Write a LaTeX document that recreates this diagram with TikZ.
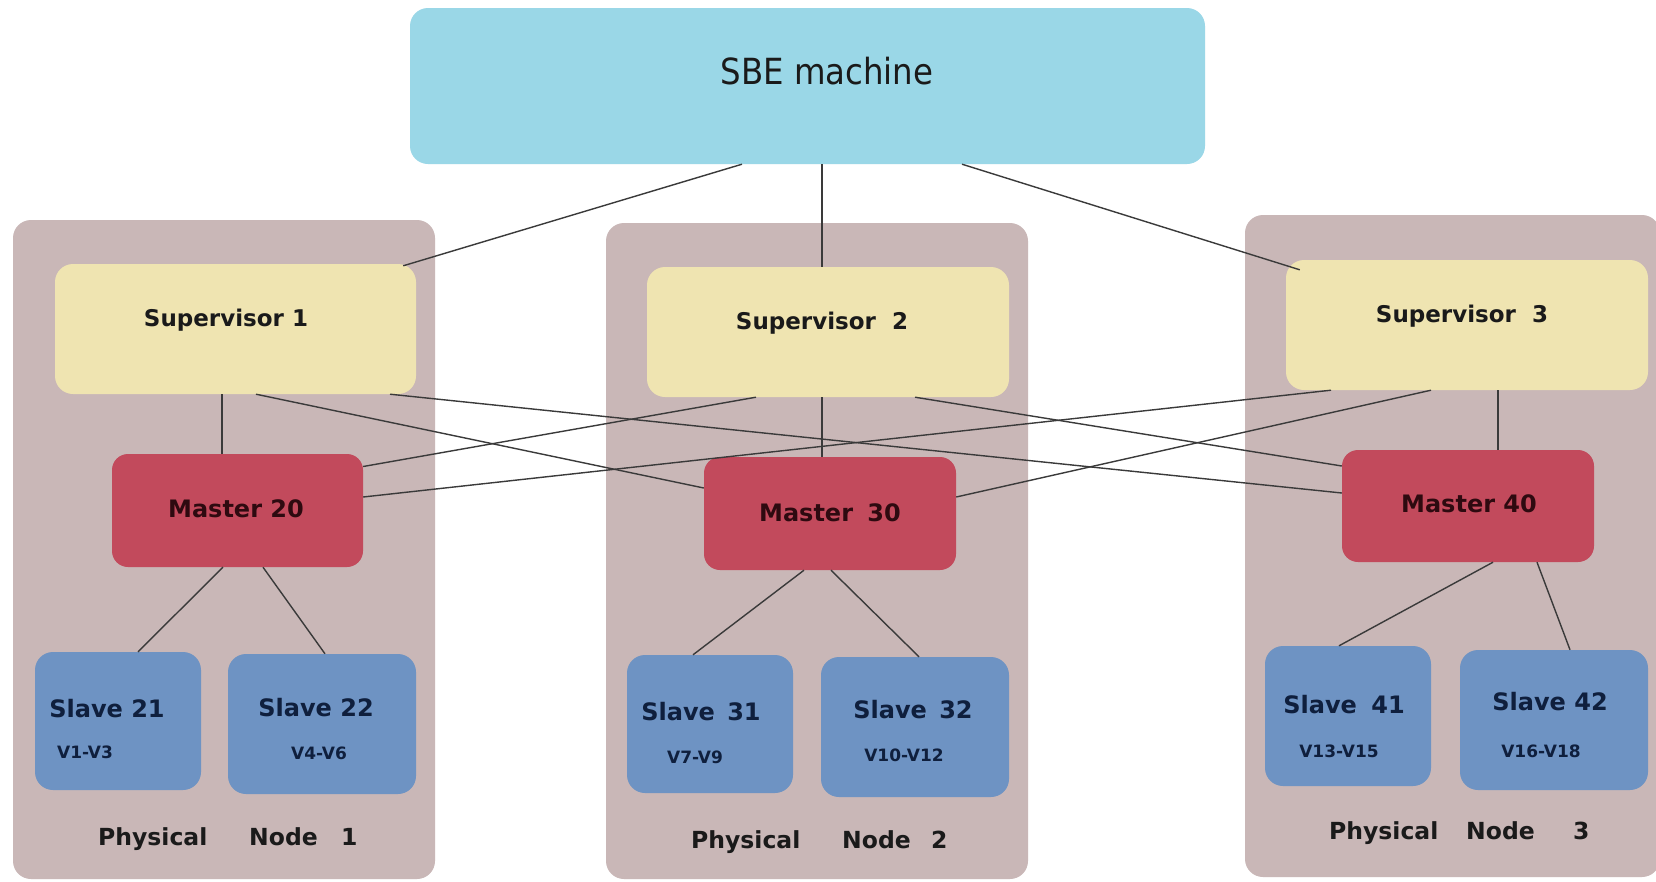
\documentclass[tikz,border=0pt]{standalone}
\usepackage{fontspec}
\setmainfont{DejaVu Sans}
\newfontfamily\narrowfont{DejaVu Sans Condensed}
\usetikzlibrary{calc}

\definecolor{sbefill}{HTML}{9AD7E7}
\definecolor{hostfill}{HTML}{C9B7B7}
\definecolor{supfill}{HTML}{EFE4B1}
\definecolor{mastfill}{HTML}{C24A5C}
\definecolor{slavefill}{HTML}{6E93C3}
\definecolor{linkcol}{HTML}{3A3A3A}
\definecolor{darktext}{HTML}{1A1A1A}
\definecolor{masttext}{HTML}{2E0A10}
\definecolor{slavetext}{HTML}{0F1F3D}

\begin{document}
\begin{tikzpicture}[x=1pt,y=-1pt,
  box/.style={rounded corners=18pt, inner sep=0pt, draw=none},
  hostbox/.style={box, fill=hostfill},
  sbebox/.style={box, fill=sbefill},
  supbox/.style={box, fill=supfill},
  mastbox/.style={box, fill=mastfill, rounded corners=16pt},
  slavebox/.style={box, fill=slavefill},
  link/.style={draw=linkcol, line width=1.4pt},
  txt/.style={inner sep=0pt, font=\bfseries\fontsize{23}{25}\selectfont},
  suptext/.style={txt, text=darktext},
  masttext/.style={txt, text=masttext, font=\bfseries\fontsize{24}{26}\selectfont},
  slavetext/.style={txt, text=slavetext, font=\bfseries\fontsize{24}{26}\selectfont},
  rangetext/.style={txt, text=slavetext, font=\bfseries\fontsize{17}{19}\selectfont},
  hosttext/.style={txt, text=darktext, anchor=west, font=\bfseries\fontsize{23.5}{25}\selectfont},
]
\useasboundingbox[fill=white] (0,0) rectangle (1656,881);

% physical hosts
\node[hostbox, minimum width=422pt, minimum height=659pt] (pn1) at (224,549.5) {};
\node[hostbox, minimum width=422pt, minimum height=656pt] (pn2) at (817,551) {};
\node[hostbox, minimum width=415pt, minimum height=662pt] (pn3) at (1452.5,546) {};

% SBE machine
\node[sbebox, minimum width=795pt, minimum height=156pt] (sbe) at (807.5,86) {};
\node[inner sep=0pt, text=darktext, font=\narrowfont\fontsize{36}{38}\selectfont] (sbet) at (827,71) {SBE machine};

% supervisors
\node[supbox, minimum width=361pt, minimum height=130pt] (sup1) at (235.5,329) {};
\node[supbox, minimum width=362pt, minimum height=130pt] (sup2) at (828,332) {};
\node[supbox, minimum width=362pt, minimum height=130pt] (sup3) at (1467,325) {};
\node[suptext] (sup1t) at (226,320) {Supervisor 1};
\node[suptext] (sup2t) at (822,323) {Supervisor\hspace{8pt} 2};
\node[suptext] (sup3t) at (1462,316) {Supervisor\hspace{8pt} 3};

% masters
\node[mastbox, minimum width=251pt, minimum height=113pt] (m20) at (237.5,510.5) {};
\node[mastbox, minimum width=252pt, minimum height=113pt] (m30) at (830,513.5) {};
\node[mastbox, minimum width=252pt, minimum height=112pt] (m40) at (1468,506) {};
\node[masttext] (m20t) at (236,509) {Master 20};
\node[masttext] (m30t) at (830,513) {Master\hspace{6pt} 30};
\node[masttext] (m40t) at (1469,504) {Master 40};

% slaves
\node[slavebox, minimum width=166pt, minimum height=138pt] (s21) at (118,721) {};
\node[slavebox, minimum width=188pt, minimum height=140pt] (s22) at (322,724) {};
\node[slavebox, minimum width=166pt, minimum height=138pt] (s31) at (710,724) {};
\node[slavebox, minimum width=188pt, minimum height=140pt] (s32) at (915,727) {};
\node[slavebox, minimum width=166pt, minimum height=140pt] (s41) at (1348,716) {};
\node[slavebox, minimum width=188pt, minimum height=140pt] (s42) at (1554,720) {};

\node[slavetext] (s21t) at (107,709) {Slave 21};
\node[slavetext] (s22t) at (316,708) {Slave 22};
\node[slavetext] (s31t) at (701,712) {Slave\hspace{4pt} 31};
\node[slavetext] (s32t) at (913,710) {Slave\hspace{4pt} 32};
\node[slavetext] (s41t) at (1344,705) {Slave\hspace{6pt} 41};
\node[slavetext] (s42t) at (1550,702) {Slave 42};

\node[rangetext] (s21r) at (85,752) {V1-V3};
\node[rangetext] (s22r) at (319,753) {V4-V6};
\node[rangetext] (s31r) at (695,757) {V7-V9};
\node[rangetext] (s32r) at (904,755) {V10-V12};
\node[rangetext] (s41r) at (1339,751) {V13-V15};
\node[rangetext] (s42r) at (1541,751) {V16-V18};

% host captions
\node[hosttext] (pn1t) at (98,839) {\makebox[151pt][l]{Physical}\makebox[92pt][l]{Node}1};
\node[hosttext] (pn2t) at (691,842) {\makebox[151pt][l]{Physical}\makebox[89pt][l]{Node}2};
\node[hosttext] (pn3t) at (1329,833) {\makebox[137pt][l]{Physical}\makebox[107pt][l]{Node}3};

% SBE machine to supervisors
\draw[link] ([xshift=-65.5pt]sbe.south) -- ([xshift=-13pt,yshift=-2pt]sup1.north east);
\draw[link] ([xshift=-6pt]sup2.north |- sbe.south) -- ([xshift=-6pt]sup2.north);
\draw[link] ([xshift=154.5pt]sbe.south) -- ([xshift=14pt,yshift=-10pt]sup3.north west);

% supervisors to masters
\draw[link] ([xshift=-15.5pt]m20.north |- sup1.south) -- ([xshift=-15.5pt]m20.north);
\draw[link] ([xshift=20.5pt]sup1.south) -- ([yshift=25.5pt]m30.west);
\draw[link] ([xshift=154.5pt]sup1.south) -- ([yshift=13pt]m40.west);
\draw[link] ([xshift=-72pt]sup2.south) -- ([yshift=44pt]m20.east);
\draw[link] ([xshift=-6pt]sup2.south) -- ([xshift=-6pt]sup2.south |- m30.north);
\draw[link] ([xshift=87pt]sup2.south) -- ([yshift=40pt]m40.west);
\draw[link] ([xshift=-136pt]sup3.south) -- ([yshift=13.5pt]m20.east);
\draw[link] ([xshift=-36pt]sup3.south) -- ([yshift=16.5pt]m30.east);
\draw[link] ([xshift=30pt]m40.north |- sup3.south) -- ([xshift=30pt]m40.north);

% masters to slaves
\draw[link] ([xshift=-14.5pt]m20.south) -- ([xshift=20pt]s21.north);
\draw[link] ([xshift=25.5pt]m20.south) -- ([xshift=3pt]s22.north);
\draw[link] ([xshift=-26pt]m30.south) -- ([xshift=-17pt]s31.north);
\draw[link] ([xshift=1pt]m30.south) -- ([xshift=4pt]s32.north);
\draw[link] ([xshift=25pt]m40.south) -- ([xshift=-9pt]s41.north);
\draw[link] ([xshift=69pt]m40.south) -- ([xshift=16pt]s42.north);
\end{tikzpicture}
\end{document}
